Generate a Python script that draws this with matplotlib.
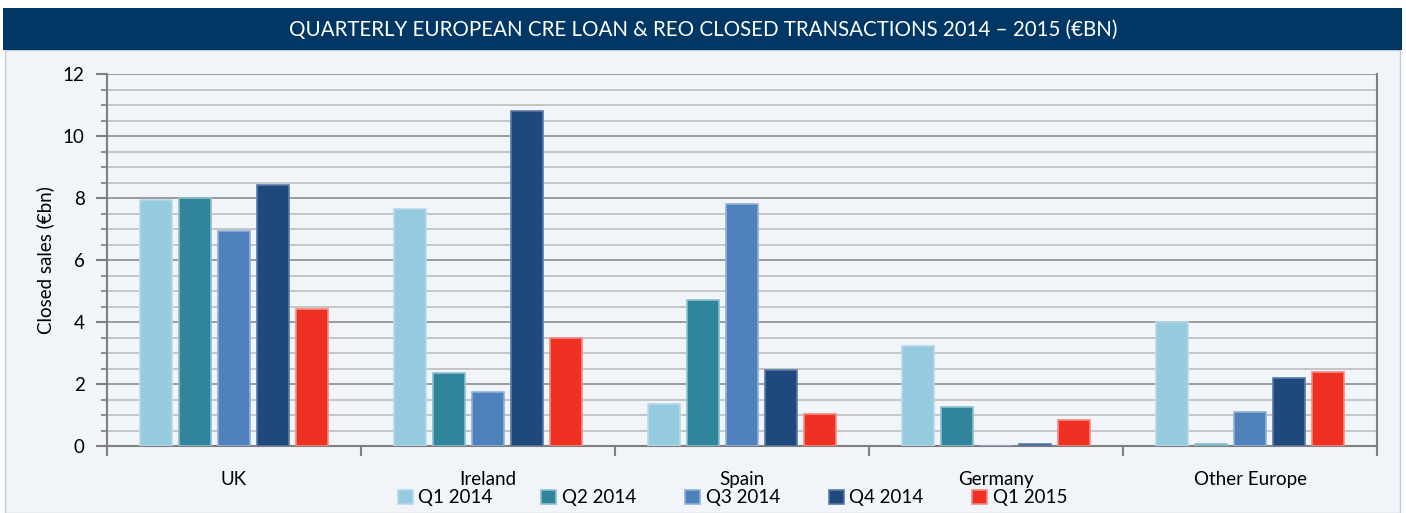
import numpy as np
import matplotlib.pyplot as plt
from matplotlib.patches import Rectangle
from matplotlib.ticker import MultipleLocator, FixedLocator

regions = ["UK", "Ireland", "Spain", "Germany", "Other Europe"]
quarters = ["Q1 2014", "Q2 2014", "Q3 2014", "Q4 2014", "Q1 2015"]
q1_2014 = [7.95, 7.65, 1.35, 3.23, 4.0]
q2_2014 = [8.0, 2.35, 4.7, 1.25, 0.05]
q3_2014 = [6.92, 1.75, 7.8, 0.0, 1.1]
q4_2014 = [8.43, 10.8, 2.45, 0.07, 2.2]
q1_2015 = [4.42, 3.48, 1.04, 0.85, 2.39]

series = [q1_2014, q2_2014, q3_2014, q4_2014, q1_2015]
colors = ["#95CBDE", "#30849B", "#4F81BD", "#1F497D", "#EF3124"]
edges = ["#B8D8E8", "#8CC0CF", "#8FB0D8", "#5A7AA8", "#F58A80"]

plt.rcParams["font.family"] = ["Lato", "DejaVu Sans"]

fig = plt.figure(figsize=(14.06, 5.13), dpi=100)
fig.patch.set_facecolor("white")

# panel background and title banner
fig.patches.append(Rectangle((5 / 1406, 0), 1395 / 1406, 1 - 50 / 513,
                             transform=fig.transFigure, facecolor="#F1F4F8",
                             edgecolor="#C8CCD0", lw=1, zorder=-2))
fig.patches.append(Rectangle((3 / 1406, 1 - 50 / 513), 1399 / 1406, 42 / 513,
                             transform=fig.transFigure, facecolor="#003764",
                             edgecolor="none", zorder=-1))
fig.text(0.5, 1 - 30 / 513,
         "QUARTERLY EUROPEAN CRE LOAN & REO CLOSED TRANSACTIONS 2014 \u2013 2015 (\u20acBN)",
         color="white", ha="center", va="center", fontsize=14.8)

ax = fig.add_axes([107 / 1406, 1 - 446 / 513, 1270 / 1406, 372 / 513])
ax.set_facecolor("#F1F4F8")

x = np.arange(len(regions))
step = 0.154
width = 0.126
for i, (vals, c, e) in enumerate(zip(series, colors, edges)):
    ax.bar(x + (i - 2) * step, vals, width, color=c, edgecolor=e, lw=1.2,
           label=quarters[i], zorder=3)

ax.set_xlim(-0.5, 4.5)
ax.set_ylim(0, 12)
ax.yaxis.set_major_locator(MultipleLocator(2))
ax.yaxis.set_minor_locator(MultipleLocator(0.5))
ax.grid(axis="y", which="major", color="#8C8C8C", lw=1.2, zorder=1)
ax.grid(axis="y", which="minor", color="#BDBDBD", lw=1.2, zorder=1)
ax.set_axisbelow(True)
ax.xaxis.set_major_locator(FixedLocator(np.arange(-0.5, 5, 1)))
ax.xaxis.set_major_formatter(plt.NullFormatter())
ax.xaxis.set_minor_locator(FixedLocator(x))
ax.set_xticklabels(regions, minor=True)
ax.tick_params(axis="x", which="minor", length=0, labelsize=13.5, pad=18)
ax.tick_params(axis="x", which="major", length=7, width=1.5, color="#7F7F7F", direction="out")
ax.tick_params(axis="y", which="major", length=8, width=1.5, color="#7F7F7F", labelsize=13.5, pad=8)
ax.tick_params(axis="y", which="minor", length=4, width=1.2, color="#7F7F7F")

for s in ["left", "bottom", "right"]:
    ax.spines[s].set_color("#7F7F7F")
    ax.spines[s].set_linewidth(1.5)
ax.spines["top"].set_visible(False)

ax.set_ylabel("Closed sales (\u20acbn)", fontsize=13.5, labelpad=6)

leg = fig.legend(loc="center", bbox_to_anchor=(0.521, 1 - 498 / 513), ncol=5,
                 frameon=False, fontsize=13.5, handlelength=0.8, handleheight=0.8,
                 handletextpad=0.3, columnspacing=2.6, borderaxespad=0)

fig.savefig("out.png", dpi=100, facecolor=fig.get_facecolor())
